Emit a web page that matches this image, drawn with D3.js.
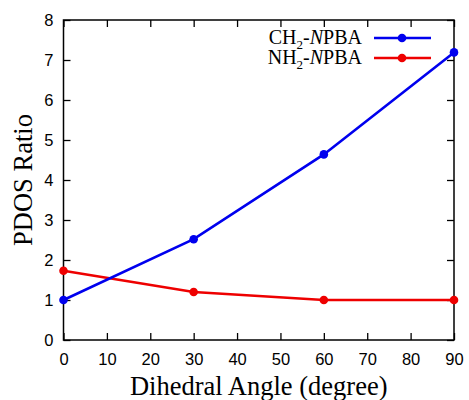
<!DOCTYPE html>
<html>
<head>
<meta charset="utf-8">
<script src="https://cdn.jsdelivr.net/npm/d3@7"></script>
<style>
  body { margin: 0; background: #fff; }
  .tick text { font-family: "Liberation Sans", Arial, sans-serif; font-size: 16.5px; fill: #000; }
  .axisTitle { font-family: "Liberation Serif", "Times New Roman", serif; font-size: 26.5px; fill: #000; }
  .legText { font-family: "Liberation Serif", "Times New Roman", serif; font-size: 20px; fill: #000; }
</style>
</head>
<body>
<div id="chart"></div>
<script>
// data
var angles = [0, 30, 60, 90];
var ch2Values = [1.0, 2.52, 4.64, 7.19];
var nh2Values = [1.73, 1.2, 1.0, 1.0];
var xTicks = [0, 10, 20, 30, 40, 50, 60, 70, 80, 90];
var yTicks = [0, 1, 2, 3, 4, 5, 6, 7, 8];
var seriesNames = ["CH", "NH"];

var svgWidth = 469;
var svgHeight = 400;
var margin = { top: 20, right: 15, bottom: 60, left: 63.5 };
var width = svgWidth - margin.left - margin.right;
var height = svgHeight - margin.top - margin.bottom;

var svg = d3.select("#chart")
  .append("svg")
  .attr("width", svgWidth)
  .attr("height", svgHeight);

var chartGroup = svg.append("g")
  .attr("transform", `translate(${margin.left}, ${margin.top})`);

var x = d3.scaleLinear().domain([0, 90]).range([0, width]);
var y = d3.scaleLinear().domain([0, 8]).range([height, 0]);

// axes with inward ticks, mirrored on top/right
chartGroup.append("g")
  .attr("transform", `translate(0, ${height})`)
  .call(d3.axisBottom(x).tickValues(xTicks).tickSizeInner(-7).tickSizeOuter(0).tickPadding(13))
  .call(g => g.select(".domain").remove());

chartGroup.append("g")
  .call(d3.axisTop(x).tickValues(xTicks).tickSizeInner(-7).tickSizeOuter(0).tickFormat(""))
  .call(g => g.select(".domain").remove());

chartGroup.append("g")
  .call(d3.axisLeft(y).tickValues(yTicks).tickSizeInner(-7).tickSizeOuter(0).tickPadding(10))
  .call(g => g.select(".domain").remove());

chartGroup.append("g")
  .attr("transform", `translate(${width}, 0)`)
  .call(d3.axisRight(y).tickValues(yTicks).tickSizeInner(-7).tickSizeOuter(0).tickFormat(""))
  .call(g => g.select(".domain").remove());

chartGroup.selectAll(".tick line").attr("stroke", "#000").attr("stroke-width", 1.3);

chartGroup.append("rect")
  .attr("width", width)
  .attr("height", height)
  .attr("fill", "none")
  .attr("stroke", "#000")
  .attr("stroke-width", 1.5);

var series = [
  { name: seriesNames[0], values: ch2Values, color: "#0000ee" },
  { name: seriesNames[1], values: nh2Values, color: "#ee0000" }
];

var line = d3.line()
  .x((d, i) => x(angles[i]))
  .y(d => y(d));

// draw red first so blue sits on top like the reference
series.slice().reverse().forEach(function(s) {
  chartGroup.append("path")
    .datum(s.values)
    .attr("d", line)
    .attr("fill", "none")
    .attr("stroke", s.color)
    .attr("stroke-width", 2.6);

  chartGroup.selectAll(null)
    .data(s.values)
    .enter()
    .append("circle")
    .attr("cx", (d, i) => x(angles[i]))
    .attr("cy", d => y(d))
    .attr("r", 4.3)
    .attr("fill", s.color);
});

// legend
var legend = svg.append("g");
series.forEach(function(s, i) {
  var ly = 38 + i * 20;
  var t = legend.append("text")
    .attr("class", "legText")
    .attr("x", 362)
    .attr("y", ly + 6)
    .attr("text-anchor", "end");
  t.append("tspan").text(s.name);
  t.append("tspan").attr("font-size", "13px").attr("dy", 5).text("2");
  t.append("tspan").attr("dy", -5).text("-");
  t.append("tspan").attr("font-style", "italic").text("N");
  t.append("tspan").text("PBA");

  legend.append("line")
    .attr("x1", 374).attr("x2", 431)
    .attr("y1", ly).attr("y2", ly)
    .attr("stroke", s.color)
    .attr("stroke-width", 2.6);
  legend.append("circle")
    .attr("cx", 402).attr("cy", ly)
    .attr("r", 4.3)
    .attr("fill", s.color);
});

// axis titles
svg.append("text")
  .attr("class", "axisTitle")
  .attr("x", margin.left + width / 2)
  .attr("y", 395)
  .attr("text-anchor", "middle")
  .text("Dihedral Angle (degree)");

svg.append("text")
  .attr("class", "axisTitle")
  .attr("transform", `translate(32, ${margin.top + height / 2}) rotate(-90)`)
  .attr("text-anchor", "middle")
  .text("PDOS Ratio");
</script>
</body>
</html>
